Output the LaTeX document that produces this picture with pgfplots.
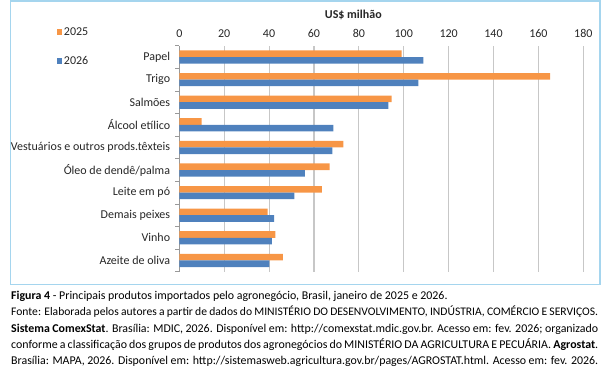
\documentclass[border=0pt]{standalone}
\usepackage{pgfplots}
\pgfplotsset{compat=1.18}
\usepackage{fontspec}
\setmainfont{Carlito}
\definecolor{orC}{RGB}{247,150,70}
\definecolor{blC}{RGB}{79,129,189}
\definecolor{frameC}{RGB}{165,213,238}
\newcommand{\capfont}{\fontsize{11.9}{13}\selectfont}
\newcommand{\chfont}{\fontsize{12}{13}\selectfont}
\begin{document}
\begin{tikzpicture}[x=1pt,y=1pt]
\path[use as bounding box] (0,0) rectangle (611,-372);
\draw[frameC, line width=1.5pt] (10.5,-1.2) rectangle (600,-284.5);
\begin{axis}[
  at={(179.3pt,-271.7pt)}, anchor=south west,
  scale only axis, width=404pt, height=226pt,
  xbar, bar width=6.6pt,
  xmin=0, xmax=180, xtick={0,20,...,180},
  ymin=-0.5, ymax=9.5, ytick={0,...,9},
  yticklabels={Azeite de oliva, Vinho, Demais peixes, Leite em pó, Óleo de dendê/palma, Vestuários e outros prods.têxteis, Álcool etílico, Salmões, Trigo, Papel},
  minor ytick={-0.5,0.5,...,9.5},
  axis x line*=top, axis y line*=left,
  axis line style={-},
  x axis line style={draw=none},
  y axis line style={draw=black!40, line width=0.9pt},
  xmajorgrids, grid style={draw=black!22, line width=1.1pt},
  major tick length=0pt, minor tick length=4pt,
  tick align=outside,
  minor tick style={draw=black!40, line width=0.8pt},
  /pgf/number format/assume math mode=true,
  tick label style={font=\chfont, text=black!85},
  xticklabel style={inner sep=0pt, yshift=8pt},
  yticklabel style={inner sep=0pt, xshift=-9pt},
  legend style={at={(axis description cs:-0.3035,1.088)}, anchor=north west, draw=none, fill=none, inner sep=0pt, row sep=16.5pt, nodes={inner sep=1.5pt, font=\chfont, text=black!85}},
  legend cell align=left,
  legend image code/.code={\fill[#1,draw=none] (0pt,-2.8pt) rectangle (5.6pt,2.8pt);},
]
\addplot[fill=orC, draw=none, bar shift=3.3pt] coordinates {(46.1,0) (42.8,1) (39.4,2) (63.5,3) (67.0,4) (73.1,5) (10.0,6) (94.6,7) (165.2,8) (99.1,9)};
\addplot[fill=blC, draw=none, bar shift=-3.3pt] coordinates {(40.1,0) (41.3,1) (42.3,2) (51.3,3) (56.0,4) (68.2,5) (68.6,6) (93.2,7) (106.5,8) (108.7,9)};
\legend{2025,2026}
\end{axis}
\node[font=\bfseries\chfont, text=black!85] at (353.3,-15.3) {US\$ milhão};
\node[anchor=base west, inner sep=0pt, font=\capfont] at (11,-299.3) {\textbf{Figura 4} - Principais produtos importados pelo agronegócio, Brasil, janeiro de 2025 e 2026.};
\node[anchor=base west, inner sep=0pt, font=\fontsize{11.6}{13}\selectfont] at (11,-315.7) {\makebox[587pt][s]{Fonte: Elaborada pelos autores a partir de dados do MINISTÉRIO DO DESENVOLVIMENTO, INDÚSTRIA, COMÉRCIO E SERVIÇOS.}};
\node[anchor=base west, inner sep=0pt, font=\capfont] at (11,-332.1) {\makebox[587pt][s]{\textbf{Sistema ComexStat}. Brasília: MDIC, 2026. Disponível em: http://comexstat.mdic.gov.br. Acesso em: fev. 2026; organizado}};
\node[anchor=base west, inner sep=0pt, font=\capfont] at (11,-348.5) {\makebox[587pt][s]{conforme a classificação dos grupos de produtos dos agronegócios do MINISTÉRIO DA AGRICULTURA E PECUÁRIA. \textbf{Agrostat}.}};
\node[anchor=base west, inner sep=0pt, font=\capfont] at (11,-364.9) {\makebox[587pt][s]{Brasília: MAPA, 2026. Disponível em: http://sistemasweb.agricultura.gov.br/pages/AGROSTAT.html. Acesso em: fev. 2026.}};
\end{tikzpicture}
\end{document}
